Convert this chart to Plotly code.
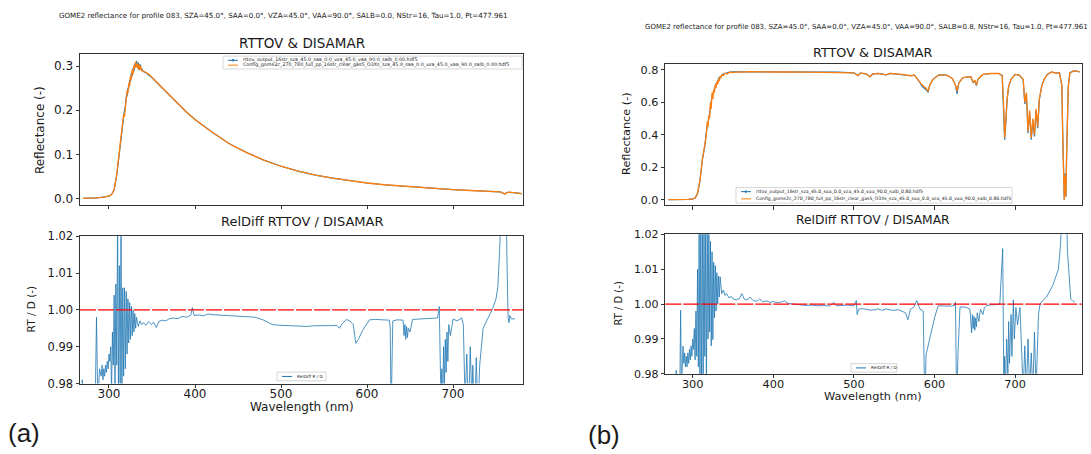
import plotly.graph_objects as go

W, H = 1091, 454

# ---------------- data ----------------
xtick_vals = [300, 400, 500, 600, 700]

# panel (a) reflectance
wl_refl_a = [270, 275, 280, 285, 290, 295, 300, 303, 306, 309,
             311, 313, 315, 316, 317, 318, 319, 320, 321, 322,
             323, 324, 325, 326, 327, 328, 329, 330, 331, 332,
             333, 334, 335, 336, 337, 338, 340, 343, 346, 350,
             355, 360, 370, 380, 390, 400, 420, 440, 460, 480,
             500, 520, 540, 560, 580, 600, 620, 640, 660, 680,
             700, 720, 740, 755, 758, 760, 762, 765, 770, 775,
             780]
refl_disamar_a = [0.000, 0.000, 0.001, 0.001, 0.002, 0.003, 0.005, 0.009, 0.020, 0.055,
                  0.090, 0.125, 0.160, 0.175, 0.190, 0.185, 0.215, 0.225, 0.245, 0.238,
                  0.262, 0.255, 0.278, 0.270, 0.292, 0.282, 0.302, 0.295, 0.310, 0.298,
                  0.306, 0.293, 0.304, 0.292, 0.300, 0.290, 0.289, 0.286, 0.282, 0.275,
                  0.265, 0.255, 0.235, 0.215, 0.196, 0.179, 0.150, 0.124, 0.104, 0.087,
                  0.073, 0.062, 0.053, 0.046, 0.040, 0.035, 0.031, 0.028, 0.025, 0.022,
                  0.020, 0.018, 0.016, 0.015, 0.012, 0.010, 0.013, 0.014, 0.013, 0.012,
                  0.011]
refl_rttov_a = [0.000, 0.000, 0.001, 0.001, 0.002, 0.003, 0.005, 0.009, 0.019, 0.052,
                0.088, 0.120, 0.155, 0.180, 0.185, 0.200, 0.208, 0.230, 0.232, 0.250,
                0.250, 0.268, 0.265, 0.285, 0.278, 0.296, 0.288, 0.306, 0.300, 0.312,
                0.296, 0.308, 0.291, 0.305, 0.293, 0.294, 0.288, 0.285, 0.281, 0.274,
                0.264, 0.254, 0.234, 0.214, 0.196, 0.179, 0.150, 0.124, 0.104, 0.087,
                0.073, 0.062, 0.053, 0.046, 0.040, 0.035, 0.031, 0.028, 0.025, 0.022,
                0.020, 0.018, 0.016, 0.015, 0.012, 0.010, 0.013, 0.014, 0.013, 0.012,
                0.011]

# panel (a) relative difference RTTOV / DISAMAR
wl_diff_a = [268, 269, 270, 280, 284, 285.5, 287, 289, 291, 292,
             293, 294, 295, 296, 297, 298, 299, 300, 301, 302,
             303, 304, 305, 306, 307, 308, 309, 310, 311, 312,
             313, 314, 315, 316, 317, 318, 319, 320, 321, 322,
             323, 324, 325, 326, 327, 328, 329, 330, 331, 332,
             334, 336, 338, 340, 343, 346, 349, 352, 355, 358,
             362, 366, 370, 375, 380, 385, 390, 395, 397, 399,
             405, 410, 415, 420, 430, 440, 450, 460, 470, 480,
             490, 500, 510, 520, 530, 540, 550, 560, 565, 568,
             571, 576, 580, 584, 587, 590, 595, 603, 610, 620,
             626, 627, 628, 629, 630, 635, 642, 643, 644, 645,
             646, 647, 648, 650, 653, 660, 670, 682, 684, 685,
             686, 687, 688, 689, 690, 691, 692, 693, 694, 695,
             697, 700, 705, 710, 712, 714, 716, 718, 720, 722,
             723, 725, 727, 729, 731, 733, 735, 738, 742, 746,
             750, 752, 754, 756, 760, 763, 764, 765, 766, 768,
             772]
reldiff_a = [0.975, 0.981, 0.970, 0.965, 0.975, 0.998, 0.975, 0.984, 0.982, 0.985,
             0.981, 0.984, 0.982, 0.985, 0.983, 0.986, 0.984, 0.988, 0.986, 0.990,
             0.978, 0.994, 0.985, 1.004, 0.978, 1.007, 0.985, 1.025, 0.975, 1.012,
             0.980, 1.025, 0.975, 1.006, 0.982, 1.006, 0.984, 1.005, 0.988, 1.003,
             0.991, 1.002, 0.992, 1.001, 0.993, 1.000, 0.994, 0.999, 0.995, 0.998,
             0.9955, 0.997, 0.996, 0.9965, 0.9958, 0.9968, 0.996, 0.9966, 0.9952, 0.9968,
             0.9972, 0.9970, 0.9976, 0.9978, 0.9976, 0.9982, 0.9980, 0.9985, 1.0006, 0.9985,
             0.9986, 0.9984, 0.9989, 0.9987, 0.9986, 0.9985, 0.9984, 0.9982, 0.9980, 0.9972,
             0.9960, 0.9958, 0.9957, 0.9958, 0.9955, 0.9957, 0.9956, 0.9957, 0.9958, 0.9950,
             0.9962, 0.9974, 0.9970, 0.9960, 0.9909, 0.9920, 0.9945, 0.9973, 0.9974, 0.9973,
             0.9972, 0.9950, 0.970, 0.985, 0.9970, 0.9973, 0.9972, 0.9930, 0.9960, 0.9920,
             0.9955, 0.9925, 0.9950, 0.9940, 0.9974, 0.9975, 0.9977, 0.9978, 1.0009, 0.990,
             0.975, 0.984, 0.975, 0.990, 0.980, 0.992, 0.983, 0.994, 0.986, 0.996,
             0.993, 0.9975, 0.9970, 0.9978, 0.9960, 0.975, 0.988, 0.970, 0.990, 0.975,
             0.985, 0.970, 0.987, 0.972, 0.985, 0.990, 0.995, 0.9965, 0.9985, 1.0003,
             1.003, 1.006, 1.015, 1.040, 1.050, 1.010, 0.998, 0.9965, 0.9985, 0.9975,
             0.9976]

# panel (b) reflectance
wl_refl_b = [270, 280, 290, 295, 300, 303, 306, 309, 312, 315,
             317, 318, 319, 320, 321, 322, 323, 324, 325, 326,
             327, 328, 329, 330, 331, 332, 333, 334, 335, 336,
             338, 340, 343, 346, 350, 355, 360, 370, 380, 390,
             400, 420, 440, 460, 480, 500, 505, 508, 515, 520,
             523, 530, 540, 545, 560, 570, 575, 580, 585, 590,
             592, 594, 598, 605, 615, 622, 626, 628, 630, 635,
             645, 648, 650, 652, 654, 660, 670, 680, 684, 686,
             687, 688, 690, 692, 695, 700, 705, 710, 712, 714,
             716, 718, 720, 722, 724, 726, 728, 730, 733, 736,
             740, 745, 750, 755, 758, 759, 760, 761, 762, 763,
             764, 765, 766, 768, 772, 776, 780]
refl_disamar_b = [0.000, 0.000, 0.001, 0.002, 0.005, 0.010, 0.040, 0.120, 0.250, 0.340,
                  0.400, 0.480, 0.450, 0.520, 0.500, 0.600, 0.560, 0.660, 0.620, 0.680,
                  0.660, 0.710, 0.690, 0.730, 0.710, 0.745, 0.730, 0.760, 0.750, 0.770,
                  0.765, 0.780, 0.775, 0.787, 0.783, 0.788, 0.786, 0.789, 0.787, 0.788,
                  0.787, 0.788, 0.787, 0.788, 0.786, 0.782, 0.765, 0.780, 0.776, 0.757,
                  0.774, 0.778, 0.770, 0.778, 0.772, 0.764, 0.768, 0.738, 0.705, 0.684,
                  0.668, 0.705, 0.742, 0.768, 0.768, 0.748, 0.705, 0.668, 0.718, 0.752,
                  0.758, 0.725, 0.735, 0.708, 0.744, 0.772, 0.778, 0.778, 0.762, 0.550,
                  0.380, 0.450, 0.620, 0.700, 0.742, 0.772, 0.768, 0.742, 0.600, 0.660,
                  0.420, 0.550, 0.380, 0.500, 0.400, 0.560, 0.450, 0.620, 0.700, 0.742,
                  0.772, 0.787, 0.782, 0.782, 0.700, 0.400, 0.100, 0.000, 0.150, 0.020,
                  0.300, 0.550, 0.700, 0.782, 0.792, 0.792, 0.788]
refl_rttov_b = [0.000, 0.000, 0.001, 0.002, 0.005, 0.010, 0.038, 0.115, 0.245, 0.330,
                0.420, 0.460, 0.480, 0.500, 0.540, 0.580, 0.600, 0.640, 0.650, 0.670,
                0.690, 0.700, 0.715, 0.720, 0.735, 0.740, 0.755, 0.752, 0.765, 0.765,
                0.775, 0.778, 0.785, 0.786, 0.788, 0.788, 0.786, 0.789, 0.787, 0.788,
                0.787, 0.788, 0.787, 0.788, 0.786, 0.782, 0.766, 0.780, 0.776, 0.758,
                0.774, 0.778, 0.770, 0.778, 0.772, 0.764, 0.768, 0.736, 0.695, 0.676,
                0.662, 0.705, 0.742, 0.768, 0.768, 0.748, 0.705, 0.652, 0.718, 0.752,
                0.758, 0.720, 0.733, 0.703, 0.744, 0.772, 0.778, 0.778, 0.765, 0.530,
                0.370, 0.440, 0.610, 0.700, 0.742, 0.772, 0.768, 0.740, 0.590, 0.650,
                0.410, 0.540, 0.370, 0.490, 0.390, 0.550, 0.440, 0.615, 0.700, 0.742,
                0.772, 0.787, 0.782, 0.782, 0.705, 0.420, 0.110, 0.000, 0.160, 0.020,
                0.310, 0.560, 0.705, 0.783, 0.792, 0.792, 0.788]

# panel (b) relative difference RTTOV / DISAMAR
wl_diff_b = [279, 279.5, 280, 284, 285, 286, 288, 289, 290, 291,
             292, 293, 294, 295, 296, 297, 298, 299, 300, 301,
             302, 303, 304, 305, 306, 307, 308, 309, 310, 311,
             312, 313, 314, 315, 316, 317, 318, 319, 320, 321,
             322, 323, 324, 325, 326, 327, 328, 329, 330, 331,
             332, 333, 334, 336, 338, 340, 342, 345, 348, 350,
             354, 358, 361, 364, 368, 371, 375, 380, 383, 387,
             392, 396, 400, 405, 410, 414, 418, 425, 432, 440,
             448, 455, 462, 470, 475, 478, 485, 492, 500, 503,
             504, 506, 510, 515, 520, 525, 530, 535, 540, 545,
             550, 555, 560, 564, 567, 570, 574, 578, 582, 586,
             588, 589.5, 595, 600, 604.5, 610, 615, 620, 625, 626,
             627.5, 629, 631.6, 636, 640, 644, 646, 647, 648, 649,
             650, 651, 652, 653, 655, 657, 660, 662, 664.7, 670,
             675, 681, 684.6, 686, 687, 688, 689.5, 691, 692, 693,
             695, 696, 697.8, 699, 701, 703, 706, 708, 710, 712,
             714, 716, 718, 720, 722, 724, 726, 728, 729, 730.9,
             735, 739, 743, 747, 750, 753.7, 756, 758, 762, 765,
             767.3, 768, 769, 771, 774]
reldiff_b = [0.975, 0.981, 0.970, 0.975, 0.9982, 0.975, 0.9879, 0.983, 0.986, 0.982,
             0.985, 0.982, 0.986, 0.983, 0.987, 0.984, 0.988, 0.985, 0.990, 0.987,
             0.993, 0.984, 0.998, 0.985, 1.010, 0.982, 1.022, 0.975, 1.025, 0.975,
             1.025, 0.978, 1.025, 0.985, 1.022, 0.975, 1.025, 0.990, 1.020, 0.992,
             1.018, 0.988, 1.015, 0.9898, 1.012, 0.996, 1.011, 0.998, 1.009, 1.000,
             1.008, 1.002, 1.0078, 1.003, 1.004, 1.0025, 1.003, 1.0018, 1.0022, 1.0015,
             1.0012, 1.0016, 1.0030, 1.0014, 1.0012, 1.0020, 1.0010, 1.0008, 1.0015, 1.0006,
             1.0009, 1.0005, 1.0007, 1.0004, 1.0006, 1.0009, 1.0002, 0.9999, 0.9998, 0.9996,
             0.9997, 0.9995, 0.9996, 0.9994, 1.0005, 0.9995, 0.9996, 0.9997, 0.9995, 1.0010,
             0.9970, 0.9985, 0.9987, 0.9984, 0.9983, 0.9983, 0.9986, 0.9982, 0.9986, 0.9983,
             0.9982, 0.9984, 0.9980, 0.9975, 0.9955, 0.9985, 0.9990, 1.0010, 0.9985, 0.9980,
             0.970, 0.9855, 0.9910, 0.9960, 0.9995, 0.9994, 0.9995, 0.9994, 0.9996, 1.0005,
             0.970, 0.985, 0.9991, 0.9992, 0.9990, 0.9985, 0.9917, 0.9970, 0.9930, 0.9965,
             0.9925, 0.9960, 0.9935, 0.9975, 0.9950, 0.9985, 0.9970, 0.9990, 0.9995, 0.9998,
             0.9998, 1.0000, 1.0159, 0.975, 0.985, 0.975, 0.990, 0.980, 0.995, 0.983,
             0.997, 0.985, 1.0012, 0.990, 0.999, 0.994, 0.999, 0.985, 0.975, 0.988,
             0.975, 0.990, 0.975, 0.986, 0.975, 0.992, 0.975, 0.990, 0.997, 1.0000,
             1.0012, 1.0020, 1.0036, 1.0055, 1.0075, 1.0100, 1.0160, 1.030, 1.040, 1.015,
             1.0050, 1.0035, 1.0014, 1.0010, 1.0005]

suptitle_a = "GOME2 reflectance for profile 083, SZA=45.0°, SAA=0.0°, VZA=45.0°, VAA=90.0°, SALB=0.0, NStr=16, Tau=1.0, Pt=477.961"
suptitle_b = "GOME2 reflectance for profile 083, SZA=45.0°, SAA=0.0°, VZA=45.0°, VAA=90.0°, SALB=0.8, NStr=16, Tau=1.0, Pt=477.961"
leg_rttov_a = "rttov_output_16str_sza_45.0_saa_0.0_vza_45.0_vaa_90.0_salb_0.00.hdf5"
leg_dis_a = "Config_gome2c_270_780_full_pp_16str_clear_gas5_O3Xs_sza_45.0_saa_0.0_vza_45.0_vaa_90.0_salb_0.00.hdf5"
leg_rttov_b = "rttov_output_16str_sza_45.0_saa_0.0_vza_45.0_vaa_90.0_salb_0.80.hdf5"
leg_dis_b = "Config_gome2c_270_780_full_pp_16str_clear_gas5_O3Xs_sza_45.0_saa_0.0_vza_45.0_vaa_90.0_salb_0.80.hdf5"
leg_diff = "RelDiff R / D"

# ---------------- styling helpers ----------------
BLUE = "#1f77b4"
ORANGE = "#ff7f0e"
AX = "#333333"
TXT = "#1a1a1a"
FONT = "DejaVu Sans"


def px(x):
    return x / W


def py(y):
    return 1 - y / H


fig = go.Figure()

# (a) top
fig.add_trace(go.Scatter(x=wl_refl_a, y=refl_rttov_a, mode="lines",
                         line=dict(color=BLUE, width=1.2),
                         xaxis="x", yaxis="y", showlegend=False))
fig.add_trace(go.Scatter(x=wl_refl_a, y=refl_disamar_a, mode="lines",
                         line=dict(color=ORANGE, width=1.3),
                         xaxis="x", yaxis="y", showlegend=False))
# (a) bottom
fig.add_trace(go.Scatter(x=wl_diff_a, y=reldiff_a, mode="lines",
                         line=dict(color=BLUE, width=0.8),
                         xaxis="x2", yaxis="y2", showlegend=False))
# (b) top
fig.add_trace(go.Scatter(x=wl_refl_b, y=refl_rttov_b, mode="lines",
                         line=dict(color=BLUE, width=1.2),
                         xaxis="x3", yaxis="y3", showlegend=False))
fig.add_trace(go.Scatter(x=wl_refl_b, y=refl_disamar_b, mode="lines",
                         line=dict(color=ORANGE, width=1.3),
                         xaxis="x3", yaxis="y3", showlegend=False))
# (b) bottom
fig.add_trace(go.Scatter(x=wl_diff_b, y=reldiff_b, mode="lines",
                         line=dict(color=BLUE, width=0.8),
                         xaxis="x4", yaxis="y4", showlegend=False))


def xax(domain, rng, labels, size, standoff=0):
    return dict(domain=domain, range=rng, showgrid=False, zeroline=False,
                showline=True, mirror=True, linecolor=AX, linewidth=1,
                ticks="outside", ticklen=3.5, tickwidth=0.8, tickcolor=AX,
                tickvals=xtick_vals, showticklabels=labels, ticklabelstandoff=standoff,
                tickfont=dict(family=FONT, size=size, color=TXT))


def yax(domain, rng, tickvals, fmt, size, anchor):
    return dict(domain=domain, range=rng, showgrid=False, zeroline=False,
                showline=True, mirror=True, linecolor=AX, linewidth=1,
                ticks="outside", ticklen=3.5, tickwidth=0.8, tickcolor=AX,
                tickvals=tickvals, tickformat=fmt, anchor=anchor,
                tickfont=dict(family=FONT, size=size, color=TXT))


xa = [px(80), px(523.3)]
xb = [px(665.3), px(1081.7)]
fig.update_layout(
    xaxis=xax(xa, [266.3, 781.7], False, 12) | dict(anchor="y"),
    yaxis=yax([py(204), py(49)], [-0.0143, 0.3266], [0.0, 0.1, 0.2, 0.3], ".1f", 12, "x"),
    xaxis2=xax(xa, [266.3, 781.7], True, 12, -4) | dict(anchor="y2"),
    yaxis2=yax([py(388.5), py(236.5)], [0.98, 1.02], [0.98, 0.99, 1.00, 1.01, 1.02], ".2f", 11.5, "x2"),
    xaxis3=xax(xb, [266.0, 782.6], False, 11.3) | dict(anchor="y3"),
    yaxis3=yax([py(204.3), py(58.7)], [-0.0328, 0.8371], [0.0, 0.2, 0.4, 0.6, 0.8], ".1f", 11.3, "x3"),
    xaxis4=xax(xb, [266.0, 782.6], True, 11.3, -4) | dict(anchor="y4"),
    yaxis4=yax([py(378.5), py(234.5)], [0.98, 1.02], [0.98, 0.99, 1.00, 1.01, 1.02], ".2f", 11, "x4"),
)

shapes = []
# red reference lines at 1.0
for xr, yr in (("x2", "y2"), ("x4", "y4")):
    shapes.append(dict(type="line", xref=f"{xr} domain", yref=yr, x0=0, x1=1, y0=1.0, y1=1.0,
                       line=dict(color="#ff0000", width=1.2, dash="16px,2px"), layer="above"))

annotations = []


def text(x, y, s, size, family=FONT, angle=0, xanchor="center"):
    annotations.append(dict(x=px(x), y=py(y), xref="paper", yref="paper", text=s, showarrow=False,
                            font=dict(family=family, size=size, color=TXT), textangle=angle,
                            xanchor=xanchor, yanchor="middle"))


def legend_box(x0, y0, x1, y1, rows, fsize):
    shapes.append(dict(type="rect", xref="paper", yref="paper", x0=px(x0), x1=px(x1), y0=py(y1), y1=py(y0),
                       line=dict(color="#cccccc", width=0.8), fillcolor="rgba(255,255,255,0.85)", layer="above"))
    for (yy, color, label, dot) in rows:
        shapes.append(dict(type="line", xref="paper", yref="paper", x0=px(x0 + 5), x1=px(x0 + 15),
                           y0=py(yy), y1=py(yy), line=dict(color=color, width=1), layer="above"))
        if dot:
            shapes.append(dict(type="circle", xref="paper", yref="paper", x0=px(x0 + 9), x1=px(x0 + 11),
                               y0=py(yy + 1), y1=py(yy - 1), line=dict(color=color, width=0.5),
                               fillcolor=color, layer="above"))
        text(x0 + 18, yy, label, fsize, xanchor="left")


legend_box(223, 50.7, 522, 64, [(55, BLUE, leg_rttov_a, True), (60, ORANGE, leg_dis_a, False)], 4.8)
legend_box(736, 186.3, 1012, 202.3, [(190.5, BLUE, leg_rttov_b, True), (198, ORANGE, leg_dis_b, False)], 4.6)
legend_box(277, 376.7, 326, 385.7, [(381.2, BLUE, leg_diff, False)], 4.3)
legend_box(851, 368, 897, 376.7, [(372.4, BLUE, leg_diff, False)], 4.3)

# titles
text(283, 9, suptitle_a, 7.1)
text(866, 21, suptitle_b, 7.0)
text(301.6, 37.5, "RTTOV & DISAMAR", 13.5)
text(873.5, 47, "RTTOV & DISAMAR", 12.8)
text(301.6, 221, "RelDiff RTTOV / DISAMAR", 13)
text(873.5, 220, "RelDiff RTTOV / DISAMAR", 12.3)
text(301.6, 413, "Wavelength (nm)", 12)
text(873.5, 402, "Wavelength (nm)", 11.3)
text(40, 127, "Reflectance (-)", 12, angle=-90)
text(627, 131, "Reflectance (-)", 11.3, angle=-90)
text(31, 312, "RT / D (-)", 10.5, angle=-90)
text(619, 306, "RT / D (-)", 10, angle=-90)
text(24, 440, "(a)", 26, family="Liberation Sans")
text(604, 442, "(b)", 26, family="Liberation Sans")

fig.update_layout(width=W, height=H, margin=dict(l=0, r=0, t=0, b=0),
                  paper_bgcolor="white", plot_bgcolor="white",
                  shapes=shapes, annotations=annotations, showlegend=False)

fig.write_html("out.html",
               post_script="document.documentElement.style.margin='0';document.body.style.margin='0';")
